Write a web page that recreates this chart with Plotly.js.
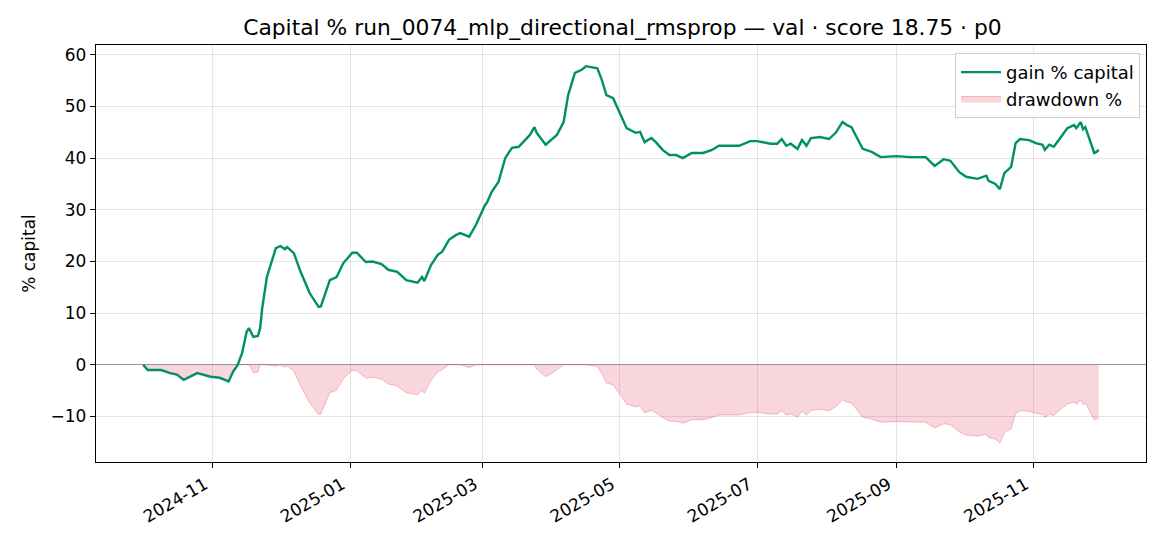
<!DOCTYPE html>
<html>
<head>
<meta charset="utf-8">
<script src="https://cdn.plot.ly/plotly-3.0.1.min.js"></script>
<style>
  html, body { margin: 0; padding: 0; background: #fff; }
  #chart { width: 1170px; height: 546px; }
</style>
</head>
<body>
<div id="chart"></div>
<script>
const dates = [
  "2024-10-01", "2024-10-03", "2024-10-06", "2024-10-09", "2024-10-13", "2024-10-16",
  "2024-10-19", "2024-10-22", "2024-10-25", "2024-10-31", "2024-11-04", "2024-11-08",
  "2024-11-10", "2024-11-12", "2024-11-14", "2024-11-16", "2024-11-17", "2024-11-19",
  "2024-11-21", "2024-11-22", "2024-11-23", "2024-11-25", "2024-11-29", "2024-12-01",
  "2024-12-03", "2024-12-04", "2024-12-07", "2024-12-10", "2024-12-14", "2024-12-18",
  "2024-12-19", "2024-12-23", "2024-12-26", "2024-12-29", "2024-12-31", "2025-01-02",
  "2025-01-04", "2025-01-08", "2025-01-11", "2025-01-15", "2025-01-18", "2025-01-22",
  "2025-01-26", "2025-01-31", "2025-02-02", "2025-02-03", "2025-02-06", "2025-02-09",
  "2025-02-11", "2025-02-14", "2025-02-17", "2025-02-19", "2025-02-23", "2025-02-26",
  "2025-03-02", "2025-03-03", "2025-03-05", "2025-03-08", "2025-03-11", "2025-03-14",
  "2025-03-17", "2025-03-19", "2025-03-22", "2025-03-24", "2025-03-25", "2025-03-29",
  "2025-04-01", "2025-04-03", "2025-04-06", "2025-04-08", "2025-04-11", "2025-04-14",
  "2025-04-16", "2025-04-21", "2025-04-23", "2025-04-25", "2025-04-28", "2025-05-02",
  "2025-05-04", "2025-05-08", "2025-05-10", "2025-05-12", "2025-05-15", "2025-05-17",
  "2025-05-20", "2025-05-23", "2025-05-26", "2025-05-29", "2025-06-02", "2025-06-07",
  "2025-06-11", "2025-06-14", "2025-06-23", "2025-06-28", "2025-07-01", "2025-07-07",
  "2025-07-10", "2025-07-12", "2025-07-14", "2025-07-16", "2025-07-19", "2025-07-21",
  "2025-07-23", "2025-07-25", "2025-07-29", "2025-08-02", "2025-08-05", "2025-08-08",
  "2025-08-10", "2025-08-12", "2025-08-15", "2025-08-17", "2025-08-21", "2025-08-25",
  "2025-09-01", "2025-09-07", "2025-09-14", "2025-09-18", "2025-09-22", "2025-09-25",
  "2025-09-29", "2025-10-02", "2025-10-07", "2025-10-11", "2025-10-12", "2025-10-15",
  "2025-10-17", "2025-10-19", "2025-10-22", "2025-10-24", "2025-10-26", "2025-10-30",
  "2025-11-02", "2025-11-05", "2025-11-06", "2025-11-08", "2025-11-10", "2025-11-13",
  "2025-11-16", "2025-11-19", "2025-11-20", "2025-11-22", "2025-11-23", "2025-11-24",
  "2025-11-26", "2025-11-28", "2025-11-29", "2025-11-30"
];

// gain % capital
const gainPct = [
  0.0, -1.0, -1.0, -1.0, -1.6, -1.9,
  -2.9, -2.3, -1.6, -2.3, -2.5, -3.2,
  -1.3, 0.0, 2.3, 6.4, 7.1, 5.4,
  5.6, 7.1, 11.2, 17.0, 22.6, 23.0,
  22.4, 22.8, 21.6, 18.0, 13.9, 11.2,
  11.3, 16.4, 17.0, 19.7, 20.8, 21.7,
  21.7, 19.9, 20.0, 19.5, 18.4, 18.0,
  16.4, 15.9, 17.0, 16.2, 19.3, 21.3,
  21.9, 24.2, 25.1, 25.5, 24.8, 27.1,
  30.9, 31.5, 33.5, 35.4, 40.0, 42.0,
  42.2, 43.1, 44.5, 46.0, 44.9, 42.6,
  43.7, 44.5, 47.0, 52.2, 56.5, 57.1,
  57.8, 57.4, 55.1, 52.2, 51.6, 47.8,
  45.8, 44.9, 45.1, 43.1, 43.9, 43.1,
  41.6, 40.6, 40.6, 40.0, 41.0, 41.0,
  41.6, 42.4, 42.4, 43.3, 43.3, 42.8,
  42.8, 43.7, 42.4, 42.8, 41.8, 43.5,
  42.4, 43.9, 44.1, 43.7, 44.9, 47.0,
  46.4, 46.0, 43.5, 41.8, 41.2, 40.2,
  40.4, 40.2, 40.2, 38.5, 39.8, 39.5,
  37.3, 36.4, 36.0, 36.6, 35.6, 35.0,
  34.0, 37.1, 38.3, 42.9, 43.7, 43.5,
  42.9, 42.6, 41.6, 42.6, 42.2, 44.1,
  45.8, 46.4, 45.8, 47.0, 45.6, 46.0,
  43.5, 41.0, 41.2, 41.6
];

// drawdown %
const drawdownPct = [
  0.0, -1.0, -1.0, -1.0, -1.6, -1.9,
  -2.9, -2.3, -1.6, -2.3, -2.5, -3.2,
  -1.3, 0.0, 0.0, 0.0, 0.0, -1.5,
  -1.4, 0.0, 0.0, 0.0, -0.3, 0.0,
  -0.5, -0.2, -1.2, -4.1, -7.4, -9.6,
  -9.5, -5.4, -4.9, -2.7, -1.8, -1.1,
  -1.1, -2.6, -2.4, -2.8, -3.7, -4.1,
  -5.4, -5.8, -4.9, -5.5, -3.0, -1.4,
  -0.9, 0.0, 0.0, 0.0, -0.5, 0.0,
  0.0, 0.0, 0.0, 0.0, 0.0, 0.0,
  0.0, 0.0, 0.0, 0.0, -0.8, -2.3,
  -1.6, -1.0, 0.0, 0.0, 0.0, 0.0,
  0.0, -0.3, -1.7, -3.5, -3.9, -6.3,
  -7.6, -8.1, -8.0, -9.3, -8.8, -9.3,
  -10.2, -10.9, -10.9, -11.3, -10.6, -10.6,
  -10.2, -9.7, -9.7, -9.2, -9.2, -9.5,
  -9.5, -8.9, -9.7, -9.5, -10.1, -9.0,
  -9.7, -8.8, -8.6, -8.9, -8.1, -6.8,
  -7.2, -7.4, -9.0, -10.1, -10.5, -11.1,
  -11.0, -11.1, -11.1, -12.2, -11.4, -11.6,
  -13.0, -13.6, -13.8, -13.4, -14.1, -14.4,
  -15.1, -13.1, -12.4, -9.4, -8.9, -9.0,
  -9.4, -9.6, -10.2, -9.6, -9.8, -8.6,
  -7.6, -7.2, -7.6, -6.8, -7.7, -7.4,
  -9.0, -10.6, -10.5, -10.2
];

const titleText = "Capital % run_0074_mlp_directional_rmsprop — val · score 18.75 · p0";

const data = [
  {
    x: dates,
    y: drawdownPct,
    name: "drawdown %",
    mode: "lines",
    fill: "tozeroy",
    fillcolor: "rgba(220, 20, 60, 0.18)",
    line: { color: "rgba(220, 20, 60, 0.25)", width: 1 },
    hoverinfo: "skip",
  },
  {
    x: dates,
    y: gainPct,
    name: "gain % capital",
    mode: "lines",
    line: { color: "#009068", width: 2.4 },
  },
];

const axisCommon = {
  showline: true,
  mirror: true,
  linecolor: "#000",
  linewidth: 1.2,
  ticks: "outside",
  ticklen: 5,
  tickwidth: 1,
  tickcolor: "#000",
  showgrid: true,
  gridcolor: "rgba(0,0,0,0.1)",
  gridwidth: 1,
  tickfont: { size: 17, color: "#000" },
};

const layout = {
  width: 1170,
  height: 546,
  font: { family: "DejaVu Sans, sans-serif", color: "#000" },
  paper_bgcolor: "#fff",
  plot_bgcolor: "#fff",
  margin: { l: 96, r: 24, t: 45, b: 84 },
  title: {
    text: titleText,
    font: { size: 21.8, color: "#000" },
    x: 0.532,
    xanchor: "center",
    y: 0.949,
    yanchor: "middle",
  },
  xaxis: {
    ...axisCommon,
    type: "date",
    range: ["2024-09-10", "2025-12-21"],
    tick0: "2024-11-01",
    dtick: "M2",
    tickformat: "%Y-%m",
    tickangle: -30,
    ticklabelshift: -8,
    zeroline: false,
  },
  yaxis: {
    ...axisCommon,
    range: [-18.8, 61.9],
    dtick: 10,
    zeroline: true,
    zerolinecolor: "#999",
    zerolinewidth: 1,
    title: { text: "% capital", font: { size: 17 }, standoff: 10 },
  },
  legend: {
    x: 0.9943,
    xanchor: "right",
    y: 0.981,
    yanchor: "top",
    traceorder: "reversed",
    itemwidth: 40,
    bgcolor: "rgba(255,255,255,0.9)",
    bordercolor: "#ccc",
    borderwidth: 1,
    font: { size: 18 },
  },
  showlegend: true,
};

Plotly.newPlot("chart", data, layout, { displayModeBar: false, staticPlot: true });
</script>
</body>
</html>
